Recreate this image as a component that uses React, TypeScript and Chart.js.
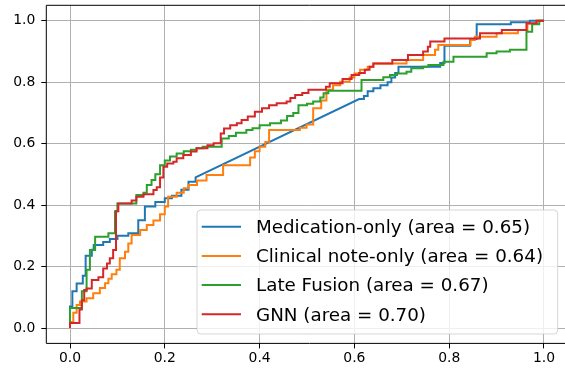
import React, { useEffect, useRef } from "react";
import { Chart, registerables } from "chart.js";

Chart.register(...registerables);

const seriesLabels = [
  "Medication-only (area = 0.65)",
  "Clinical note-only (area = 0.64)",
  "Late Fusion (area = 0.67)",
  "GNN (area = 0.70)",
];
const seriesColors = ["#1f77b4", "#ff7f0e", "#2ca02c", "#d62728"];
const tickValues = [0, 0.2, 0.4, 0.6, 0.8, 1.0];

// Medication-only ROC (false positive rate / true positive rate corners)
const medFpr = [0, 0, 0.005, 0.005, 0.014, 0.014, 0.027, 0.027, 0.033, 0.033, 0.046, 0.046, 0.05, 0.05, 0.07, 0.07, 0.084, 0.084, 0.1, 0.1, 0.123, 0.123, 0.144, 0.144, 0.158, 0.158, 0.18, 0.18, 0.2, 0.2, 0.215, 0.215, 0.235, 0.235, 0.25, 0.25, 0.265, 0.265, 0.61, 0.62, 0.62, 0.628, 0.628, 0.64, 0.64, 0.655, 0.655, 0.67, 0.67, 0.678, 0.678, 0.686, 0.686, 0.693, 0.693, 0.781, 0.781, 0.79, 0.79, 0.844, 0.844, 0.858, 0.858, 0.93, 0.93, 0.97, 0.97, 1];
const medTpr = [0, 0.07, 0.07, 0.12, 0.12, 0.145, 0.145, 0.17, 0.17, 0.235, 0.235, 0.255, 0.255, 0.27, 0.27, 0.28, 0.28, 0.29, 0.29, 0.3, 0.3, 0.308, 0.308, 0.351, 0.351, 0.395, 0.395, 0.41, 0.41, 0.422, 0.422, 0.43, 0.43, 0.45, 0.45, 0.476, 0.476, 0.49, 0.745, 0.745, 0.755, 0.755, 0.77, 0.77, 0.78, 0.78, 0.79, 0.79, 0.8, 0.8, 0.815, 0.815, 0.83, 0.83, 0.85, 0.85, 0.862, 0.862, 0.918, 0.918, 0.94, 0.94, 0.988, 0.988, 0.995, 0.995, 1, 1];

// Clinical note-only ROC
const noteFpr = [0, 0, 0.007, 0.007, 0.014, 0.014, 0.021, 0.021, 0.035, 0.035, 0.049, 0.049, 0.063, 0.063, 0.074, 0.074, 0.081, 0.081, 0.088, 0.088, 0.098, 0.098, 0.105, 0.105, 0.116, 0.116, 0.123, 0.123, 0.13, 0.13, 0.148, 0.148, 0.162, 0.162, 0.176, 0.176, 0.19, 0.19, 0.2, 0.2, 0.207, 0.207, 0.225, 0.225, 0.24, 0.24, 0.25, 0.25, 0.268, 0.268, 0.288, 0.288, 0.323, 0.323, 0.38, 0.38, 0.39, 0.39, 0.4, 0.4, 0.412, 0.412, 0.42, 0.42, 0.485, 0.485, 0.499, 0.499, 0.513, 0.513, 0.53, 0.53, 0.541, 0.541, 0.555, 0.555, 0.57, 0.57, 0.59, 0.59, 0.6, 0.6, 0.612, 0.612, 0.628, 0.628, 0.64, 0.64, 0.71, 0.71, 0.745, 0.745, 0.77, 0.77, 0.777, 0.777, 0.845, 0.845, 0.854, 0.854, 0.9, 0.9, 0.945, 0.945, 0.965, 0.965, 0.985, 0.985, 1];
const noteTpr = [0, 0.02, 0.02, 0.05, 0.05, 0.075, 0.075, 0.086, 0.086, 0.097, 0.097, 0.113, 0.113, 0.13, 0.13, 0.146, 0.146, 0.16, 0.16, 0.175, 0.175, 0.19, 0.19, 0.227, 0.227, 0.248, 0.248, 0.275, 0.275, 0.303, 0.303, 0.319, 0.319, 0.335, 0.335, 0.35, 0.35, 0.37, 0.37, 0.395, 0.395, 0.427, 0.427, 0.44, 0.44, 0.455, 0.455, 0.465, 0.465, 0.48, 0.48, 0.498, 0.498, 0.53, 0.53, 0.555, 0.555, 0.575, 0.575, 0.59, 0.59, 0.605, 0.605, 0.644, 0.644, 0.652, 0.652, 0.662, 0.662, 0.715, 0.715, 0.74, 0.74, 0.775, 0.775, 0.79, 0.79, 0.801, 0.801, 0.815, 0.815, 0.828, 0.828, 0.84, 0.84, 0.85, 0.85, 0.861, 0.861, 0.872, 0.872, 0.888, 0.888, 0.905, 0.905, 0.921, 0.921, 0.937, 0.937, 0.948, 0.948, 0.959, 0.959, 0.97, 0.97, 0.99, 0.99, 1, 1];

// Late Fusion ROC
const fusionFpr = [0, 0, 0.025, 0.025, 0.035, 0.035, 0.042, 0.042, 0.053, 0.053, 0.081, 0.081, 0.095, 0.095, 0.1, 0.1, 0.14, 0.14, 0.155, 0.155, 0.162, 0.162, 0.172, 0.172, 0.18, 0.18, 0.19, 0.19, 0.2, 0.2, 0.211, 0.211, 0.225, 0.225, 0.24, 0.24, 0.255, 0.255, 0.267, 0.267, 0.28, 0.28, 0.32, 0.32, 0.335, 0.335, 0.35, 0.35, 0.372, 0.372, 0.385, 0.385, 0.4, 0.4, 0.422, 0.422, 0.445, 0.445, 0.458, 0.458, 0.471, 0.471, 0.482, 0.482, 0.5, 0.5, 0.513, 0.513, 0.528, 0.528, 0.535, 0.535, 0.545, 0.545, 0.615, 0.615, 0.661, 0.661, 0.675, 0.675, 0.69, 0.69, 0.71, 0.71, 0.72, 0.72, 0.745, 0.745, 0.756, 0.756, 0.788, 0.788, 0.809, 0.809, 0.879, 0.879, 0.9, 0.9, 0.928, 0.928, 0.963, 0.963, 0.975, 0.975, 0.99, 0.99, 1];
const fusionTpr = [0, 0.065, 0.065, 0.12, 0.12, 0.19, 0.19, 0.254, 0.254, 0.297, 0.297, 0.308, 0.308, 0.38, 0.38, 0.405, 0.405, 0.433, 0.433, 0.44, 0.44, 0.465, 0.465, 0.482, 0.482, 0.5, 0.5, 0.53, 0.53, 0.545, 0.545, 0.558, 0.558, 0.568, 0.568, 0.575, 0.575, 0.58, 0.58, 0.585, 0.585, 0.59, 0.59, 0.617, 0.617, 0.625, 0.625, 0.635, 0.635, 0.644, 0.644, 0.65, 0.65, 0.66, 0.66, 0.666, 0.666, 0.675, 0.675, 0.69, 0.69, 0.7, 0.7, 0.725, 0.725, 0.73, 0.73, 0.737, 0.737, 0.75, 0.75, 0.764, 0.764, 0.772, 0.772, 0.807, 0.807, 0.816, 0.816, 0.823, 0.823, 0.828, 0.828, 0.834, 0.834, 0.845, 0.845, 0.85, 0.85, 0.856, 0.856, 0.866, 0.866, 0.883, 0.883, 0.894, 0.894, 0.9, 0.9, 0.905, 0.905, 0.964, 0.964, 0.988, 0.988, 1, 1];

// GNN ROC
const gnnFpr = [0, 0, 0.02, 0.02, 0.025, 0.025, 0.03, 0.03, 0.035, 0.035, 0.046, 0.046, 0.06, 0.06, 0.07, 0.07, 0.078, 0.078, 0.084, 0.084, 0.091, 0.091, 0.097, 0.097, 0.102, 0.102, 0.13, 0.13, 0.14, 0.14, 0.155, 0.155, 0.176, 0.176, 0.183, 0.183, 0.19, 0.19, 0.197, 0.197, 0.205, 0.205, 0.218, 0.218, 0.225, 0.225, 0.239, 0.239, 0.255, 0.255, 0.267, 0.267, 0.29, 0.29, 0.303, 0.303, 0.318, 0.318, 0.325, 0.325, 0.338, 0.338, 0.352, 0.352, 0.362, 0.362, 0.375, 0.375, 0.39, 0.39, 0.405, 0.405, 0.42, 0.42, 0.436, 0.436, 0.457, 0.457, 0.465, 0.465, 0.475, 0.475, 0.49, 0.49, 0.503, 0.503, 0.54, 0.54, 0.548, 0.548, 0.575, 0.575, 0.594, 0.594, 0.61, 0.61, 0.622, 0.622, 0.632, 0.632, 0.64, 0.64, 0.68, 0.68, 0.713, 0.713, 0.745, 0.745, 0.755, 0.755, 0.76, 0.76, 0.79, 0.79, 0.865, 0.865, 0.911, 0.911, 0.963, 0.963, 0.984, 0.984, 1];
const gnnTpr = [0, 0.016, 0.016, 0.06, 0.06, 0.09, 0.09, 0.124, 0.124, 0.129, 0.129, 0.156, 0.156, 0.165, 0.165, 0.194, 0.194, 0.21, 0.21, 0.227, 0.227, 0.254, 0.254, 0.38, 0.38, 0.405, 0.405, 0.415, 0.415, 0.427, 0.427, 0.435, 0.435, 0.449, 0.449, 0.458, 0.458, 0.49, 0.49, 0.525, 0.525, 0.535, 0.535, 0.541, 0.541, 0.552, 0.552, 0.563, 0.563, 0.574, 0.574, 0.585, 0.585, 0.595, 0.595, 0.601, 0.601, 0.633, 0.633, 0.649, 0.649, 0.66, 0.66, 0.666, 0.666, 0.677, 0.677, 0.688, 0.688, 0.704, 0.704, 0.715, 0.715, 0.725, 0.725, 0.731, 0.731, 0.737, 0.737, 0.748, 0.748, 0.758, 0.758, 0.765, 0.765, 0.775, 0.775, 0.785, 0.785, 0.796, 0.796, 0.81, 0.81, 0.823, 0.823, 0.83, 0.83, 0.84, 0.84, 0.85, 0.85, 0.861, 0.861, 0.872, 0.872, 0.888, 0.888, 0.9, 0.9, 0.915, 0.915, 0.932, 0.932, 0.942, 0.942, 0.959, 0.959, 0.97, 0.97, 0.992, 0.992, 1, 1];

const seriesFpr = [medFpr, noteFpr, fusionFpr, gnnFpr];
const seriesTpr = [medTpr, noteTpr, fusionTpr, gnnTpr];

const FONT = '"DejaVu Sans", "Liberation Sans", sans-serif';

const framePlugin = {
  id: "mplFrame",
  afterDatasetsDraw(chart: any) {
    const { ctx, chartArea: a } = chart;
    ctx.save();
    ctx.strokeStyle = "#000";
    ctx.lineWidth = 1;
    ctx.beginPath();
    // left, top and bottom spines (the right spine falls outside the picture)
    ctx.moveTo(a.right + 5, a.top);
    ctx.lineTo(a.left, a.top);
    ctx.lineTo(a.left, a.bottom);
    ctx.lineTo(a.right + 5, a.bottom);
    ctx.stroke();
    ctx.restore();
  },
};

const legendPlugin = {
  id: "mplLegend",
  afterDraw(chart: any) {
    const { ctx, chartArea: a } = chart;
    const w = 360.7;
    const h = 124;
    const x0 = a.right - 10 - w;
    const y0 = a.bottom - 9.4 - h;
    const r = 4;
    ctx.save();
    ctx.beginPath();
    ctx.moveTo(x0 + r, y0);
    ctx.lineTo(x0 + w - r, y0);
    ctx.quadraticCurveTo(x0 + w, y0, x0 + w, y0 + r);
    ctx.lineTo(x0 + w, y0 + h - r);
    ctx.quadraticCurveTo(x0 + w, y0 + h, x0 + w - r, y0 + h);
    ctx.lineTo(x0 + r, y0 + h);
    ctx.quadraticCurveTo(x0, y0 + h, x0, y0 + h - r);
    ctx.lineTo(x0, y0 + r);
    ctx.quadraticCurveTo(x0, y0, x0 + r, y0);
    ctx.closePath();
    ctx.fillStyle = "rgba(255,255,255,0.8)";
    ctx.fill();
    ctx.strokeStyle = "rgba(204,204,204,0.8)";
    ctx.lineWidth = 1;
    ctx.stroke();
    chart.data.datasets.forEach((ds: any, i: number) => {
      const cy = y0 + 16.7 + i * 29.2;
      ctx.beginPath();
      ctx.strokeStyle = ds.borderColor;
      ctx.lineWidth = 2;
      ctx.moveTo(x0 + 4.7, cy);
      ctx.lineTo(x0 + 44, cy);
      ctx.stroke();
      ctx.fillStyle = "#000";
      ctx.font = `18.3px ${FONT}`;
      ctx.textBaseline = "alphabetic";
      ctx.textAlign = "left";
      ctx.fillText(ds.label, x0 + 59, cy + 6.3);
    });
    ctx.restore();
  },
};

function axisCommon(fitSize: (s: any) => void) {
  return {
    type: "linear" as const,
    min: -0.05,
    max: 1.05,
    afterBuildTicks: (s: any) => {
      s.ticks = tickValues.map((v) => ({ value: v }));
    },
    afterFit: (s: any) => {
      fitSize(s);
      s.paddingTop = 0;
      s.paddingBottom = 0;
      s.paddingLeft = 0;
      s.paddingRight = 0;
    },
    grid: {
      color: "#b0b0b0",
      lineWidth: 1,
      tickColor: "#000",
      tickLength: 5,
      drawTicks: true,
    },
    border: { display: false },
  };
}

export default function App() {
  const ref = useRef<HTMLCanvasElement | null>(null);

  useEffect(() => {
    if (!ref.current) return;
    const datasets = seriesLabels.map((label, i) => ({
      label,
      data: seriesFpr[i].map((x, j) => ({ x, y: seriesTpr[i][j] })),
      borderColor: seriesColors[i],
      backgroundColor: seriesColors[i],
      borderWidth: 2,
      pointRadius: 0,
      pointHoverRadius: 0,
      tension: 0,
      fill: false,
      order: seriesLabels.length - i,
    }));
    const chart = new Chart(ref.current, {
      type: "line",
      data: { datasets },
      options: {
        animation: false,
        responsive: false,
        maintainAspectRatio: false,
        devicePixelRatio: 1,
        layout: { padding: { left: 0, top: 5.3, right: 12.3, bottom: 0 } },
        plugins: { legend: { display: false }, tooltip: { enabled: false } },
        scales: {
          x: {
            ...axisCommon((s: any) => {
              s.height = 25.6;
            }),
            ticks: {
              autoSkip: false,
              maxRotation: 0,
              padding: 2,
              color: "#000",
              font: { family: FONT, size: 13.9 },
              callback: (v: any) => Number(v).toFixed(1),
            },
          },
          y: {
            ...axisCommon((s: any) => {
              s.width = 46.3;
            }),
            ticks: {
              autoSkip: false,
              padding: 6,
              color: "#000",
              font: { family: FONT, size: 13.9 },
              callback: (v: any) => Number(v).toFixed(1),
            },
          },
        },
      } as any,
      plugins: [framePlugin, legendPlugin],
    });
    return () => chart.destroy();
  }, []);

  return (
    <div
      style={{
        position: "fixed",
        left: 0,
        top: 0,
        width: 565,
        height: 369,
        overflow: "hidden",
        background: "#fff",
      }}
    >
      <canvas ref={ref} width={580} height={369} style={{ display: "block", width: 580, height: 369 }} />
    </div>
  );
}
